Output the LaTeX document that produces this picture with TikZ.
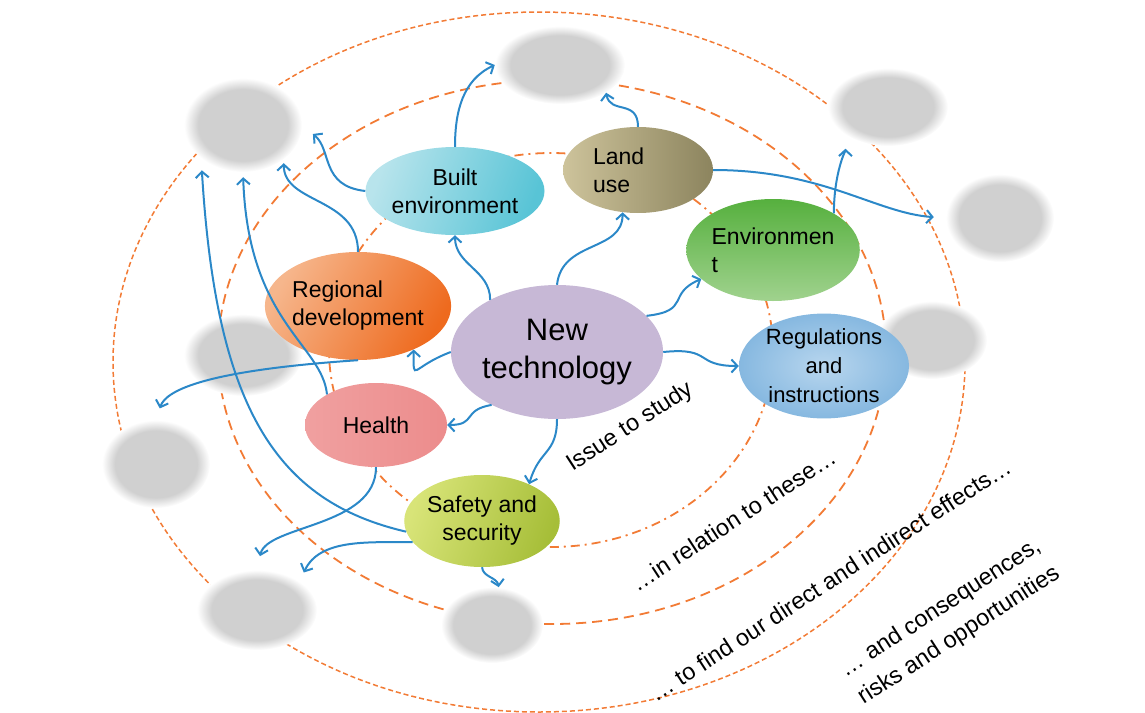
\documentclass[tikz,border=0pt]{standalone}
\usepackage{fontspec}
\setmainfont{Liberation Sans}
\usepackage{tikz}
\usetikzlibrary{arrows.meta, shapes.geometric, positioning}

\definecolor{ringorange}{HTML}{F27B35}
\definecolor{linkblue}{HTML}{2B88C8}
\definecolor{blobgray}{HTML}{D0D0D0}
\pgfdeclareradialshading{blobfade}{\pgfpoint{0bp}{0bp}}{color(0bp)=(blobgray); color(19bp)=(blobgray); color(25bp)=(white); color(50bp)=(white)}

\tikzset{
  topic/.style={ellipse, inner sep=0pt, align=center, font=\fontsize{23}{28}\selectfont},
  blob/.style={ellipse, inner sep=0pt, shading=blobfade},
  link/.style={draw=linkblue, line width=2pt, -{Straight Barb[length=6pt,width=13pt]}},
  ring/.style={draw=ringorange, line width=1.8pt},
  remark/.style={rotate=33, font=\fontsize{23.5}{33}\selectfont}
}

\begin{document}
\begin{tikzpicture}[x=1pt,y=1pt]
  \useasboundingbox (0,0) rectangle (1145,-712);

  % the three rings
  \draw[ring, dash pattern=on 9pt off 5pt on 2pt off 5pt] (551,-350) ellipse [x radius=222, y radius=197];
  \draw[ring, dash pattern=on 10pt off 6pt] (552,-352) ellipse [x radius=334, y radius=272];
  \draw[ring, line width=1.5pt, dash pattern=on 5pt off 3pt] (539,-362) ellipse [x radius=426, y radius=350];

  % grey blobs
  \node[blob, minimum width=118pt, minimum height=94pt] (g1) at (243,-125) {};
  \node[blob, minimum width=130pt, minimum height=78pt] (g2) at (560,-65) {};
  \node[blob, minimum width=120pt, minimum height=78pt] (g3) at (888,-107) {};
  \node[blob, minimum width=108pt, minimum height=88pt] (g4) at (1000,-218) {};
  \node[blob, minimum width=110pt, minimum height=78pt] (g5) at (932,-340) {};
  \node[blob, minimum width=118pt, minimum height=82pt] (g6) at (243,-355) {};
  \node[blob, minimum width=108pt, minimum height=88pt] (g7) at (156,-464) {};
  \node[blob, minimum width=120pt, minimum height=80pt] (g8) at (257,-610) {};
  \node[blob, minimum width=102pt, minimum height=76pt] (g9) at (492,-625) {};

  % topics
  \node[topic, minimum width=184pt, minimum height=134pt, fill={rgb,255:red,199;green,184;blue,214},
        font=\fontsize{31}{38}\selectfont] (nt) at (557,-352) {New\\technology};
  \node[topic, minimum width=160pt, minimum height=88pt, left color={rgb,255:red,184;green,228;blue,236},
        right color={rgb,255:red,88;green,196;blue,214}, shading angle=70] (be) at (455,-191) {Built\\environment};
  \node[topic, minimum width=150pt, minimum height=86pt, text width=90pt, align=left,
        left color={rgb,255:red,205;green,195;blue,155}, right color={rgb,255:red,140;green,132;blue,94}] (lu) at (638,-170) {Land\\use};
  \node[topic, minimum width=166pt, minimum height=102pt, align=left,
        top color={rgb,255:red,86;green,176;blue,62}, bottom color={rgb,255:red,160;green,210;blue,142}] (env) at (773,-250) {Environmen\\t};
  \node[topic, minimum width=170pt, minimum height=104pt, inner color={rgb,255:red,184;green,214;blue,238},
        outer color={rgb,255:red,134;green,184;blue,224}, font=\fontsize{22}{29}\selectfont] (rg) at (824,-366) {Regulations\\and\\instructions};
  \node[topic, minimum width=150pt, minimum height=108pt, align=left, left color={rgb,255:red,246;green,182;blue,140},
        right color={rgb,255:red,238;green,106;blue,30}, shading angle=60] (rd) at (358,-306) {Regional\\development};
  \node[topic, minimum width=142pt, minimum height=84pt, left color={rgb,255:red,240;green,160;blue,160},
        middle color={rgb,255:red,244;green,172;blue,170}, right color={rgb,255:red,236;green,140;blue,140}] (he) at (376,-425) {Health};
  \node[topic, minimum width=152pt, minimum height=92pt, left color={rgb,255:red,216;green,228;blue,120},
        middle color={rgb,255:red,200;green,216;blue,40}, right color={rgb,255:red,166;green,190;blue,56}, shading angle=70] (ss) at (482,-521) {Safety and\\security};

  % links out of the new technology
  \draw[link] (nt.142) .. controls +(0,30) and +(0,-30) .. (be.south);
  \draw[link] (nt.north) .. controls +(5,45) and +(0,-40) .. (lu.250);
  \draw[link] (nt.22) .. controls +(45,5) and +(-35,-15) .. (env.202);
  \draw[link] (nt.east) .. controls +(50,5) and +(-45,0) .. (rg.west);
  \draw[link] (nt.180) .. controls +(-40,-15) and +(0,-35) .. (rd.-38);
  \draw[link] (nt.219) .. controls +(-30,-5) and +(30,0) .. (he.east);
  \draw[link] (nt.270) .. controls +(0,-35) and +(10,35) .. (ss.38);

  % links towards the blobs
  \draw[link] (be.north) to[out=90, in=205] (g2.west);
  \draw[link, shorten >=14pt] (be.west) .. controls +(-45,5) and +(30,-25) .. (g1.east);
  \draw[link, shorten >=4pt] (rd.north) .. controls +(0,55) and +(0,-45) .. (g1.-40);
  \draw[link] (lu.north) .. controls +(0,28) and +(4,-22) .. (g2.south east);
  \draw[link, shorten >=12pt] (lu.east) .. controls +(110,0) and +(-70,5) .. (g4.west);
  \draw[link, shorten >=14pt] (env.31) .. controls +(0,40) and +(0,-15) .. (g3.south west);
  \draw[link, shorten >=12pt] (rd.south) .. controls +(-150,-10) and +(10,30) .. (g7.north);
  \draw[link, shorten >=5pt] (he.148) .. controls +(-5,50) and +(5,-150) .. (g1.south);
  \draw[link, shorten >=12pt] (ss.188) .. controls +(-130,30) and +(15,-250) .. (g1.south west);
  \draw[link, shorten >=14pt] (he.south) .. controls +(0,-60) and +(10,45) .. (g8.north);
  \draw[link, shorten >=10pt] (ss.197) to[out=180, in=65] (g8.north east);
  \draw[link] (ss.south) to[out=-85, in=100] (g9.80);

  % remarks along the rings
  \node[remark] (issue) at (630,-427) {Issue to study};
  \node[remark] (relate) at (733,-520) {\dots in relation to these\dots};
  \node[remark] (effects) at (830,-580) {\dots\ to find our direct and indirect effects\dots};
  \node[remark, align=left] (conseq) at (950,-622) {\dots\ and consequences,\\risks and opportunities};
\end{tikzpicture}
\end{document}
